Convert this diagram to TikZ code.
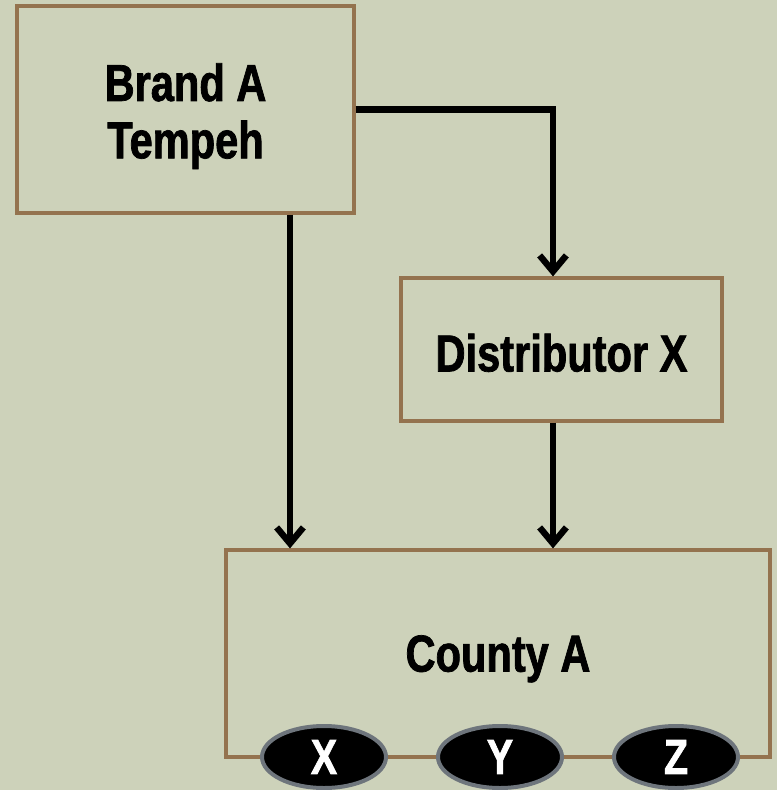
\documentclass[tikz,border=0pt]{standalone}
\usepackage{fontspec}
\setmainfont{Liberation Sans}[FakeStretch=0.8,FakeBold=1.4]
\usetikzlibrary{arrows.meta,shapes.geometric}

\definecolor{paper}{RGB}{205,210,186}
\definecolor{frame}{RGB}{148,115,79}
\definecolor{rim}{RGB}{110,117,124}

\tikzset{
  box/.style={draw=frame, line width=2.4pt, fill=paper, inner sep=0pt},
  caption/.style={align=center, inner sep=0pt,
    font=\fontsize{39}{43}\selectfont\bfseries},
  flow/.style={line width=4.8pt, -{Straight Barb[length=12pt,width=20pt]}},
  tag/.style={ellipse, draw=rim, line width=3pt, fill=black, text=white,
    inner sep=0pt, minimum width=93pt, minimum height=46.5pt,
    font=\fontsize{37}{40}\selectfont\bfseries}
}

\begin{document}
\begin{tikzpicture}[x=0.75pt,y=0.75pt,yscale=-1,xscale=1]
% background and frame of the page
\fill[paper] (0,0) rectangle (777,790);
\useasboundingbox (0,0) rectangle (777,790);

% Boxes
\node[box, minimum width=252.75pt, minimum height=155.25pt] (brand) at (185.5,109.5) {};
\node[box, minimum width=240.75pt, minimum height=107.25pt] (dist) at (561.5,349.5) {};
\node[box, minimum width=408pt, minimum height=155.25pt] (county) at (498,653.5) {};

% Box texts
\node[caption] (brandtext) at ([yshift=5pt]brand.center) {Brand A\\Tempeh};
\node[caption] (disttext) at ([yshift=2.5pt]dist.center) {Distributor X};
\node[caption] (countytext) at ([yshift=4pt]county.center) {County A};

% Outlets on the county's lower edge
\node[tag] (outx) at (324,757) {X};
\node[tag] (outy) at (500,757) {Y};
\node[tag] (outz) at (676,757) {Z};

% x positions of the vertical runs
\coordinate (direct) at (290,0);
\coordinate (via) at (553,0);

% Arrows
\draw[flow] (brand.east) -| (via |- dist.north);
\draw[flow] (direct |- brand.south) -- (direct |- county.north);
\draw[flow] (via |- dist.south) -- (via |- county.north);

\end{tikzpicture}
\end{document}
